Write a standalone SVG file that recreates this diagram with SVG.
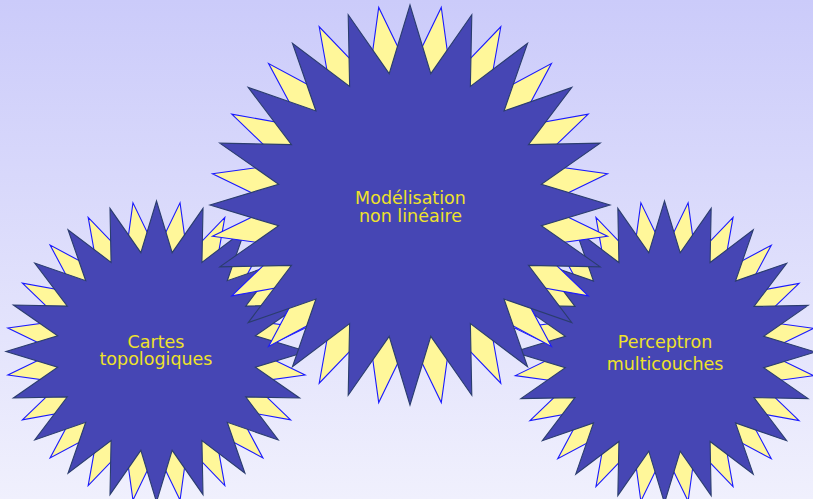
<svg xmlns="http://www.w3.org/2000/svg" xmlns:xlink="http://www.w3.org/1999/xlink" width="813" height="499" viewBox="0 0 813 499">
<defs>
<linearGradient id="bg" x1="0" y1="0" x2="0" y2="1">
<stop offset="0" stop-color="#cbcbfa"/>
<stop offset="1" stop-color="#f0f0fd"/>
</linearGradient>
<polygon id="star" vector-effect="non-scaling-stroke" stroke-linejoin="miter" points="0,-100 10.403,-65.681 30.902,-95.106 30.19,-59.252 58.779,-80.902 47.023,-47.023 80.902,-58.779 59.252,-30.19 95.106,-30.902 65.681,-10.403 100,0 65.681,10.403 95.106,30.902 59.252,30.19 80.902,58.779 47.023,47.023 58.779,80.902 30.19,59.252 30.902,95.106 10.403,65.681 0,100 -10.403,65.681 -30.902,95.106 -30.19,59.252 -58.779,80.902 -47.023,47.023 -80.902,58.779 -59.252,30.19 -95.106,30.902 -65.681,10.403 -100,0 -65.681,-10.403 -95.106,-30.902 -59.252,-30.19 -80.902,-58.779 -47.023,-47.023 -58.779,-80.902 -30.19,-59.252 -30.902,-95.106 -10.403,-65.681"/>
</defs>
<style>
.y { fill: #fff79a; stroke: #1a1aff; stroke-width: 1.1; }
.b { fill: #4646b4; stroke: #2b3d6e; stroke-width: 1.1; }
.t { font-family: "DejaVu Sans", "Liberation Sans", sans-serif; font-size: 17.5px; fill: #efe22a; text-anchor: middle; }
</style>
<rect x="0" y="0" width="813" height="499" fill="url(#bg)"/>
<g id="cartes">
<use xlink:href="#star" class="y" transform="translate(156.5,351.5) scale(1.505) rotate(9)"/>
<use xlink:href="#star" class="b" transform="translate(156.5,351.5) scale(1.505)"/>
<text class="t" x="156" y="347.7">Cartes<tspan x="156" dy="17">topologiques</tspan></text>
</g>
<g id="perceptron">
<use xlink:href="#star" class="y" transform="translate(664.5,352) scale(1.51) rotate(9)"/>
<use xlink:href="#star" class="b" transform="translate(664.5,352) scale(1.51)"/>
<text class="t" x="665" y="348.3">Perceptron<tspan x="665" dy="21.2">multicouches</tspan></text>
</g>
<g id="modelisation">
<use xlink:href="#star" class="y" transform="translate(410,205) scale(2) rotate(9)"/>
<use xlink:href="#star" class="b" transform="translate(410,205) scale(2)"/>
<text class="t" x="410.5" y="204.3">Modélisation<tspan x="410.5" dy="17.2">non linéaire</tspan></text>
</g>
<g id="connectors"></g>
</svg>
